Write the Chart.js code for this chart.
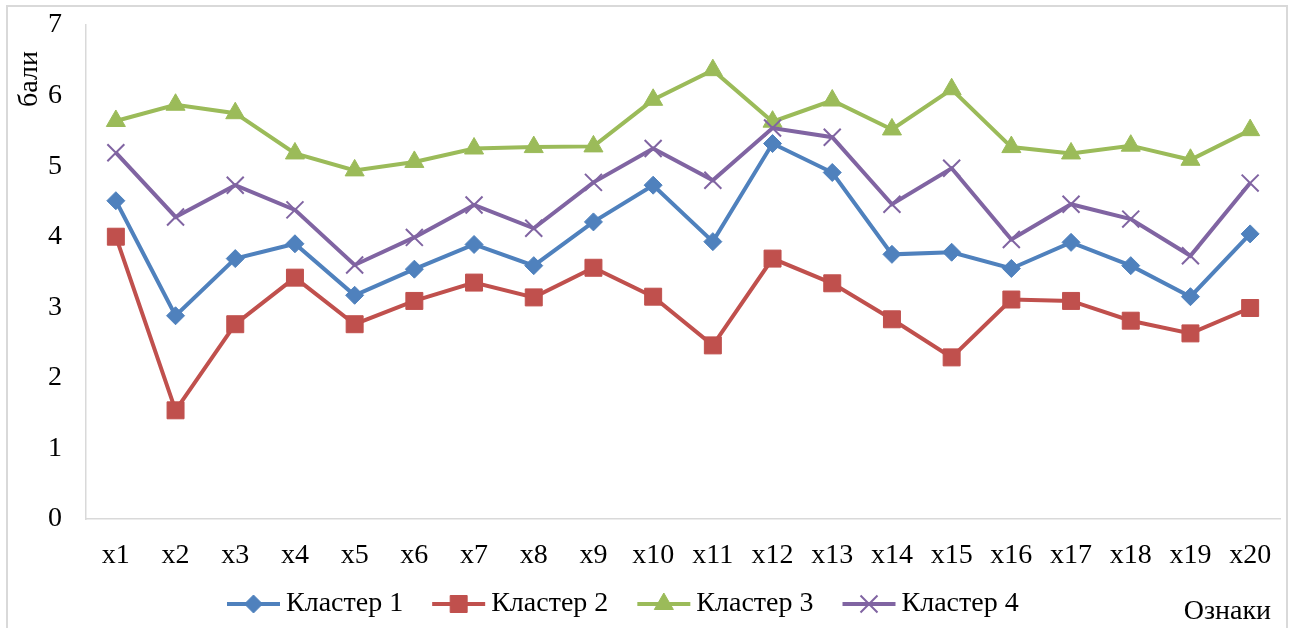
<!DOCTYPE html>
<html>
<head>
<meta charset="utf-8">
<script src="https://cdn.jsdelivr.net/npm/chart.js@4"></script>
<style>
  html, body { margin: 0; padding: 0; background: #fff; overflow: hidden; }
  #wrap { position: relative; width: 1294px; height: 628px; }
  #frame { position: absolute; left: 6px; top: 5px; width: 1282px; height: 660px;
           border: 2px solid #D9D9D9; box-sizing: border-box; pointer-events: none; }
  canvas { position: absolute; left: 0; top: 0; }
</style>
</head>
<body>
<div id="wrap">
  <canvas id="chart" width="1294" height="628"></canvas>
  <div id="frame"></div>
</div>
<script>
// Ознаки (features) along the x axis
const categories = ['x1','x2','x3','x4','x5','x6','x7','x8','x9','x10',
                    'x11','x12','x13','x14','x15','x16','x17','x18','x19','x20'];

// Mean scores per cluster
const cluster1 = [4.51, 2.88, 3.69, 3.90, 3.17, 3.54, 3.89, 3.59, 4.21, 4.73,
                  3.93, 5.32, 4.91, 3.75, 3.78, 3.55, 3.92, 3.59, 3.15, 4.04];
const cluster2 = [4.00, 1.54, 2.76, 3.42, 2.76, 3.09, 3.35, 3.14, 3.56, 3.15,
                  2.46, 3.69, 3.34, 2.83, 2.29, 3.11, 3.09, 2.81, 2.63, 2.99];
const cluster3 = [5.64, 5.87, 5.75, 5.18, 4.94, 5.06, 5.25, 5.27, 5.28, 5.94,
                  6.36, 5.63, 5.93, 5.52, 6.09, 5.27, 5.18, 5.29, 5.09, 5.51];
const cluster4 = [5.19, 4.28, 4.73, 4.38, 3.60, 3.99, 4.45, 4.12, 4.77, 5.25,
                  4.80, 5.54, 5.41, 4.46, 4.97, 3.96, 4.46, 4.25, 3.73, 4.76];

const seriesNames = ['Кластер 1', 'Кластер 2', 'Кластер 3', 'Кластер 4'];
const yMin = 0, yMax = 7, yStep = 1;
const yTitle = 'бали';
const xTitle = 'Ознаки';

const FONT = '"Liberation Serif", "Times New Roman", serif';
const FONT_SIZE = 28;

const styles = [
  { color: '#4F81BD', pointStyle: 'rectRot',  radius: 9,  pbw: 1 },
  { color: '#C0504D', pointStyle: 'rect',     radius: 12, pbw: 1 },
  { color: '#9BBB59', pointStyle: 'triangle', radius: 11, pbw: 1 },
  { color: '#8064A2', pointStyle: 'crossRot', radius: 12, pbw: 2 }
];
const values = [cluster1, cluster2, cluster3, cluster4];

const datasets = values.map((v, i) => ({
  label: seriesNames[i],
  data: v,
  borderColor: styles[i].color,
  backgroundColor: styles[i].color,
  pointBackgroundColor: styles[i].color,
  pointBorderColor: styles[i].color,
  pointStyle: styles[i].pointStyle,
  pointRadius: styles[i].radius,
  pointBorderWidth: styles[i].pbw,
  borderWidth: 4,
  tension: 0,
  fill: false,
  order: values.length - i   // later series drawn on top
}));

// Small marker painter used by the legend
function paintMarker(ctx, style, r, x, y, color, bw) {
  ctx.save();
  ctx.fillStyle = color; ctx.strokeStyle = color; ctx.lineWidth = bw;
  ctx.beginPath();
  if (style === 'rectRot') {
    ctx.moveTo(x - r, y); ctx.lineTo(x, y - r); ctx.lineTo(x + r, y); ctx.lineTo(x, y + r);
    ctx.closePath(); ctx.fill(); ctx.stroke();
  } else if (style === 'rect') {
    const s = r * Math.SQRT1_2;
    ctx.rect(x - s, y - s, 2 * s, 2 * s); ctx.fill(); ctx.stroke();
  } else if (style === 'triangle') {
    const c = Math.cos(Math.PI / 6) * r;
    ctx.moveTo(x, y - r); ctx.lineTo(x + c, y + r / 2); ctx.lineTo(x - c, y + r / 2);
    ctx.closePath(); ctx.fill(); ctx.stroke();
  } else if (style === 'crossRot') {
    const s = r * Math.SQRT1_2;
    ctx.moveTo(x - s, y - s); ctx.lineTo(x + s, y + s);
    ctx.moveTo(x - s, y + s); ctx.lineTo(x + s, y - s);
    ctx.stroke();
  }
  ctx.restore();
}

// Axis titles and the bottom legend
const decor = {
  id: 'decor',
  afterDraw(chart) {
    const ctx = chart.ctx;
    ctx.save();
    ctx.font = FONT_SIZE + 'px ' + FONT;
    ctx.fillStyle = '#000';

    ctx.save();
    ctx.translate(30, 79);
    ctx.rotate(-Math.PI / 2);
    ctx.textAlign = 'center';
    ctx.textBaseline = 'middle';
    ctx.fillText(yTitle, 0, 0);
    ctx.restore();

    ctx.textAlign = 'right';
    ctx.textBaseline = 'middle';
    ctx.fillText(xTitle, 1271, 612);

    let x = 227;
    const y = 604, sample = 53;
    ctx.textAlign = 'left';
    chart.data.datasets.forEach((ds, i) => {
      ctx.strokeStyle = ds.borderColor;
      ctx.lineWidth = ds.borderWidth;
      ctx.beginPath();
      ctx.moveTo(x, y); ctx.lineTo(x + sample, y);
      ctx.stroke();
      paintMarker(ctx, ds.pointStyle, ds.pointRadius, x + sample / 2, y, ds.borderColor, ds.pointBorderWidth);
      ctx.fillStyle = '#000';
      ctx.fillText(ds.label, x + sample + 6, y);
      x += sample + 6 + ctx.measureText(ds.label).width + 29;
    });
    ctx.restore();
  }
};

new Chart(document.getElementById('chart'), {
  type: 'line',
  data: { labels: categories, datasets },
  options: {
    responsive: false,
    animation: false,
    events: [],
    layout: { padding: { top: 25, right: 14, bottom: 49, left: 0 } },
    plugins: { legend: { display: false }, tooltip: { enabled: false } },
    scales: {
      x: {
        offset: true,
        grid: { display: false, drawTicks: false },
        border: { display: true, color: '#D9D9D9', width: 1.5 },
        ticks: { color: '#000', font: { family: FONT, size: FONT_SIZE }, padding: 20, maxRotation: 0, autoSkip: false },
        afterFit(scale) { scale.height = 60; scale.paddingLeft = 0; scale.paddingRight = 0; }
      },
      y: {
        min: yMin, max: yMax,
        grid: { display: false, drawTicks: false },
        border: { display: true, color: '#D9D9D9', width: 1.5 },
        ticks: { stepSize: yStep, color: '#000', font: { family: FONT, size: FONT_SIZE }, padding: 24 },
        afterFit(scale) { scale.width = 86; scale.paddingTop = 0; scale.paddingBottom = 0; }
      }
    }
  },
  plugins: [decor]
});
</script>
</body>
</html>
